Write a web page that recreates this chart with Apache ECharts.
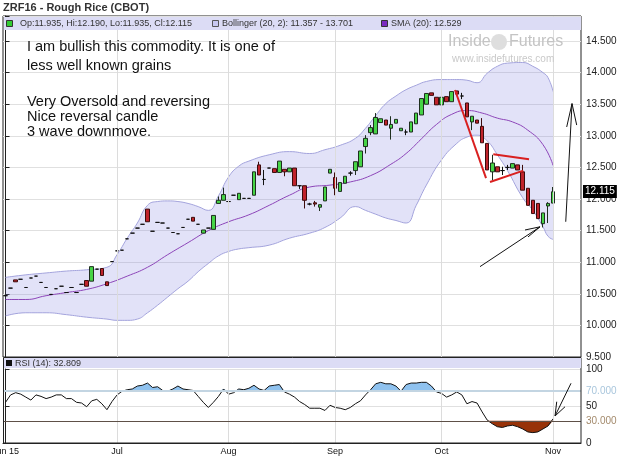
<!DOCTYPE html>
<html>
<head>
<meta charset="utf-8">
<title>ZRF16 - Rough Rice (CBOT)</title>
<script src="https://cdn.jsdelivr.net/npm/echarts@6/dist/echarts.min.js"></script>
<style>
    html, body { margin: 0; padding: 0; background: #fff; }
    #chart { width: 625px; height: 467px; }
</style>
</head>
<body>
<div id="chart"></div>
<script>
    // trading days Jun 1 - Nov 9 2015 (the last five Nov days are empty room on the right)
    const tradingDays = [
        ['2015-06', [1, 2, 3, 4, 5, 8, 9, 10, 11, 12, 15, 16, 17, 18, 19, 22, 23, 24, 25, 26, 29, 30]],
        ['2015-07', [1, 2, 6, 7, 8, 9, 10, 13, 14, 15, 16, 17, 20, 21, 22, 23, 24, 27, 28, 29, 30, 31]],
        ['2015-08', [3, 4, 5, 6, 7, 10, 11, 12, 13, 14, 17, 18, 19, 20, 21, 24, 25, 26, 27, 28, 31]],
        ['2015-09', [1, 2, 3, 4, 8, 9, 10, 11, 14, 15, 16, 17, 18, 21, 22, 23, 24, 25, 28, 29, 30]],
        ['2015-10', [1, 2, 5, 6, 7, 8, 9, 12, 13, 14, 15, 16, 19, 20, 21, 22, 23, 26, 27, 28, 29, 30]],
        ['2015-11', [2, 3, 4, 5, 6, 9]]
    ]
    const monthNames = {'06': 'Jun 15', '07': 'Jul', '08': 'Aug', '09': 'Sep', '10': 'Oct', '11': 'Nov'}

    // OHLC, one row per month
    const opens = [
        10.47, 10.59, 10.72, 10.73, 10.60, 10.75, 10.78, 10.68, 10.60, 10.49, 10.58, 10.62, 10.52, 10.60, 10.52, 10.65, 10.71, 10.70, 10.89, 10.90, 10.69, 11.01,
        11.18, 11.19, 11.37, 11.46, 11.54, 11.60, 11.84, 11.49, 11.63, 11.62, 11.54, 11.47, 11.45, 11.55, 11.68, 11.71, 11.60, 11.46, 11.54, 11.52, 11.93, 11.98,
        11.96, 12.06, 11.99, 12.01, 12.01, 12.06, 12.54, 12.31, 12.49, 12.48, 12.42, 12.47, 12.43, 12.49, 12.21, 12.21, 11.92, 11.94, 11.87, 11.97, 12.41,
        12.34, 12.12, 12.25, 12.41, 12.45, 12.51, 12.83, 13.05, 13.03, 13.21, 13.25, 13.12, 13.20, 13.08, 13.06, 13.06, 13.19, 13.33, 13.50, 13.68, 13.61,
        13.49, 13.62, 13.54, 13.71, 13.63, 13.52, 13.22, 13.25, 13.15, 12.88, 12.43, 12.51, 12.45, 12.50, 12.49, 12.54, 12.43, 12.17, 11.98, 11.93, 11.61, 11.89,
        11.935
    ]
    const closes = [
        10.47, 10.59, 10.69, 10.73, 10.60, 10.75, 10.78, 10.68, 10.60, 10.49, 10.58, 10.62, 10.52, 10.60, 10.52, 10.65, 10.62, 10.93, 10.89, 10.79, 10.63, 11.01,
        11.18, 11.19, 11.37, 11.46, 11.54, 11.60, 11.64, 11.49, 11.63, 11.62, 11.54, 11.47, 11.45, 11.55, 11.68, 11.65, 11.60, 11.51, 11.54, 11.74, 11.98, 12.07,
        11.96, 12.06, 12.09, 12.01, 12.01, 12.43, 12.38, 12.31, 12.49, 12.42, 12.60, 12.43, 12.49, 12.21, 12.21, 11.98, 11.92, 11.92, 11.91, 12.19, 12.47,
        12.17, 12.26, 12.36, 12.41, 12.59, 12.76, 12.96, 13.13, 13.29, 13.27, 13.17, 13.18, 13.26, 13.12, 13.06, 13.22, 13.36, 13.59, 13.67, 13.64, 13.49,
        13.61, 13.54, 13.70, 13.66, 13.63, 13.30, 13.31, 13.20, 12.89, 12.46, 12.57, 12.43, 12.45, 12.50, 12.56, 12.46, 12.14, 11.90, 11.77, 11.69, 11.78, 11.93,
        12.115
    ]
    const highs = [
        10.47, 10.59, 10.72, 10.73, 10.60, 10.75, 10.78, 10.68, 10.60, 10.49, 10.58, 10.62, 10.52, 10.60, 10.52, 10.65, 10.71, 10.93, 10.89, 10.90, 10.69, 11.01,
        11.18, 11.19, 11.37, 11.46, 11.54, 11.60, 11.84, 11.49, 11.63, 11.62, 11.54, 11.47, 11.45, 11.55, 11.68, 11.71, 11.60, 11.51, 11.54, 11.74, 12.04, 12.18,
        11.96, 12.06, 12.09, 12.01, 12.01, 12.43, 12.59, 12.46, 12.49, 12.48, 12.60, 12.47, 12.49, 12.49, 12.21, 12.21, 11.94, 11.97, 11.91, 12.19, 12.47,
        12.42, 12.26, 12.36, 12.44, 12.59, 12.76, 13.01, 13.17, 13.36, 13.27, 13.25, 13.31, 13.26, 13.12, 13.10, 13.22, 13.36, 13.59, 13.67, 13.68, 13.61,
        13.61, 13.62, 13.70, 13.71, 13.68, 13.52, 13.31, 13.25, 13.28, 12.88, 12.70, 12.51, 12.51, 12.54, 12.56, 12.54, 12.54, 12.17, 11.98, 11.93, 11.78, 11.95,
        12.19
    ]
    const lows = [
        10.47, 10.59, 10.69, 10.73, 10.60, 10.75, 10.78, 10.68, 10.60, 10.49, 10.58, 10.62, 10.52, 10.60, 10.52, 10.65, 10.62, 10.70, 10.89, 10.79, 10.63, 11.01,
        11.18, 11.19, 11.37, 11.46, 11.54, 11.60, 11.64, 11.49, 11.63, 11.62, 11.54, 11.47, 11.45, 11.55, 11.68, 11.65, 11.60, 11.46, 11.54, 11.52, 11.93, 11.98,
        11.96, 12.06, 11.99, 12.01, 12.01, 12.06, 12.38, 12.22, 12.49, 12.42, 12.42, 12.36, 12.43, 12.21, 12.16, 11.85, 11.90, 11.88, 11.81, 11.97, 12.41,
        12.06, 12.12, 12.25, 12.37, 12.38, 12.51, 12.72, 13.01, 13.03, 13.21, 13.17, 12.94, 13.20, 13.08, 13.01, 13.06, 13.19, 13.33, 13.50, 13.64, 13.49,
        13.49, 13.54, 13.54, 13.66, 13.58, 13.30, 13.09, 13.20, 12.89, 12.46, 12.30, 12.43, 12.38, 12.46, 12.49, 12.46, 12.14, 11.90, 11.77, 11.69, 11.55, 11.62,
        11.935
    ]

    // Bollinger (20, 2) at these day indices
    const bandIdx = [0, 4, 8, 12, 16, 20, 22, 24, 26, 28, 30, 32, 34, 36, 38, 40, 42, 44, 46, 48, 52, 56, 60, 63, 66, 69,
        71, 73, 75, 77, 79, 81, 83, 86, 89, 91, 93, 95, 97, 99, 102, 104, 106, 107, 108]
    const bandUpper = [10.76, 10.80, 10.83, 10.86, 10.88, 10.92, 11.12, 11.38, 11.62, 11.90, 11.96, 11.97, 11.96, 11.93, 11.88, 11.82, 12.05, 12.35, 12.52, 12.60, 12.70, 12.75, 12.72, 12.78, 12.85, 12.96,
        13.12, 13.32, 13.51, 13.63, 13.73, 13.80, 13.86, 13.89, 13.89, 13.88, 13.84, 13.99, 14.10, 14.15, 14.16, 14.10, 14.00, 13.92, 13.70]
    const bandLower = [10.15, 10.20, 10.20, 10.17, 10.13, 10.10, 10.08, 10.08, 10.10, 10.20, 10.32, 10.45, 10.58, 10.70, 10.85, 10.98, 11.10, 11.17, 11.21, 11.23, 11.27, 11.38, 11.46, 11.55, 11.70, 11.88,
        11.82, 11.76, 11.70, 11.66, 11.62, 11.90, 12.22, 12.62, 12.88, 12.98, 13.01, 12.92, 12.70, 12.45, 12.02, 11.82, 11.56, 11.41, 11.36]

    // SMA (20)
    const smaIdx = [0, 4, 8, 12, 16, 20, 24, 28, 32, 36, 40, 44, 48, 52, 56, 60, 64, 68, 72, 76, 79, 82, 85, 88, 91, 94, 97, 100, 103, 106, 108]
    const smaVals = [10.41, 10.41, 10.47, 10.52, 10.57, 10.66, 10.78, 10.92, 11.12, 11.31, 11.50, 11.64, 11.75, 11.90, 12.06, 12.19,
        12.22, 12.27, 12.37, 12.55, 12.72, 12.95, 13.18, 13.34, 13.40, 13.36, 13.28, 13.22, 13.09, 12.86, 12.53]

    // RSI (14)
    const rsi = [
        55, 65, 68, 66, 62, 58, 65, 63, 60, 62, 65, 65, 60, 60, 55, 54, 49, 57, 59, 53, 45, 56,
        65, 70, 72, 73, 77, 78, 81, 75, 76, 71, 70, 73, 77, 73, 72, 71, 63, 55, 48, 55, 63, 73,
        66, 68, 73, 72, 74, 78, 73, 71, 77, 78, 79, 69, 66, 62, 56, 52, 47, 47, 47, 44, 51,
        48, 47, 45, 48, 53, 57, 65, 72, 80, 82, 80, 80, 77, 70, 79, 81, 81, 82, 82, 77, 69,
        67, 62, 65, 69, 65, 53, 56, 54, 42, 31, 26, 22, 21, 23, 24, 22, 19, 15, 14, 15, 19, 23,
        32.8
    ]

    // hand drawn marks, [day index, value]
    const redLines = [
        [[88.65, 13.725], [94.77, 12.33]],
        [[95.55, 12.27], [102.12, 12.45]],
        [[96.2, 12.71], [103.25, 12.63]]
    ]
    const blackArrows = [
        [[93.58, 10.93], [105.42, 11.56]],
        [[102.46, 11.51], [105.42, 11.56], [103.05, 11.40]],
        [[110.49, 11.64], [111.73, 13.51]],
        [[110.68, 13.14], [111.73, 13.51], [112.65, 13.17]]
    ]
    const rsiArrow = [
        [[111.53, 80.7], [108.38, 36.5]],
        [[108.71, 55.8], [108.38, 36.5], [110.35, 49.0]]
    ]

    const categories = []
    tradingDays.forEach(([ym, days]) => days.forEach(d => categories.push(ym + '-' + String(d).padStart(2, '0'))))
    const monthStart = []
    categories.forEach((c, i) => {
        if (i === 0 || c.slice(0, 7) !== categories[i - 1].slice(0, 7)) monthStart.push(i)
    })
    const isMonthStart = (i) => monthStart.indexOf(i) >= 0

    const candles = opens.map((o, i) => [o, closes[i], lows[i], highs[i]])
    const lowerPts = bandIdx.map((x, k) => [x, bandLower[k]])
    const widthPts = bandIdx.map((x, k) => [x, +(bandUpper[k] - bandLower[k]).toFixed(3)])
    const smaPts = smaIdx.map((x, k) => [x, smaVals[k]])
    const rsiAbove = rsi.map(v => Math.max(v, 70))
    const rsiBelow = rsi.map(v => Math.min(v, 30))

    const FONT = 'Liberation Sans, Arial, sans-serif'
    const monthLines = monthStart.filter(i => i > 0).map(i => ({xAxis: i}))

    const segSeries = (segs, xIdx, yIdx, color, width) => segs.map(pts => ({
        type: 'line', xAxisIndex: xIdx, yAxisIndex: yIdx, data: pts, symbol: 'none',
        silent: true, z: 6, lineStyle: {color: color, width: width}
    }))

    const text = (x, y, str, font, fill, z) => ({
        type: 'text', x: x, y: y, z: z || 12, silent: true,
        style: {text: str, font: font, fill: fill, verticalAlign: 'middle'}
    })

    let chart = echarts.init(document.getElementById('chart'))
    chart.setOption({
        animation: false,
        textStyle: {fontFamily: FONT},
        grid: [
            {left: 3, right: 44, top: 16, height: 341, show: true, borderColor: '#222', borderWidth: 1, outerBoundsMode: 'none'},
            {left: 3, right: 44, top: 369, height: 74, outerBoundsMode: 'none'}
        ],
        xAxis: [
            {type: 'category', gridIndex: 0, data: categories, show: false},
            {
                type: 'category', gridIndex: 1, data: categories,
                axisLine: {lineStyle: {color: '#222'}},
                axisTick: {alignWithLabel: true, interval: isMonthStart, length: 3, lineStyle: {color: '#222'}},
                axisLabel: {
                    interval: isMonthStart, fontSize: 9, color: '#111', margin: 4, alignMinLabel: 'center',
                    formatter: (v) => monthNames[v.slice(5, 7)]
                },
                splitLine: {show: false}
            },
            {type: 'value', gridIndex: 0, min: -0.5, max: categories.length - 0.5, show: false},
            {type: 'value', gridIndex: 1, min: -0.5, max: categories.length - 0.5, show: false}
        ],
        yAxis: [
            {
                type: 'value', gridIndex: 0, position: 'right', min: 9.5, max: 14.896, interval: 0.5,
                axisLine: {show: true, lineStyle: {color: '#222'}},
                axisTick: {show: true, length: 4, lineStyle: {color: '#222'}},
                axisLabel: {
                    fontSize: 10, color: '#222', margin: 5,
                    formatter: (v) => Math.abs(v * 2 - Math.round(v * 2)) < 1e-6 ? v.toFixed(3) : ''
                },
                splitLine: {lineStyle: {color: '#e0e0e0'}}
            },
            {
                type: 'value', gridIndex: 1, position: 'right', min: 0, max: 100, interval: 50,
                axisLine: {show: true, lineStyle: {color: '#222'}},
                axisTick: {show: true, length: 4, lineStyle: {color: '#222'}},
                axisLabel: {fontSize: 10, color: '#222', margin: 5},
                splitLine: {lineStyle: {color: '#e0e0e0'}}
            }
        ],
        series: [
            // month grid lines, main panel
            {
                type: 'line', xAxisIndex: 0, yAxisIndex: 0, data: closes, symbol: 'none', silent: true, z: 1,
                lineStyle: {opacity: 0},
                markLine: {
                    silent: true, symbol: 'none', label: {show: false}, animation: false,
                    lineStyle: {color: '#dcdcdc', type: 'solid', width: 1}, data: monthLines
                }
            },
            {
                name: 'BB lower', type: 'line', xAxisIndex: 0, yAxisIndex: 0, stack: 'bb', smooth: true,
                data: lowerPts, symbol: 'none', silent: true, z: 2,
                lineStyle: {color: '#a3a3dc', width: 1}
            },
            {
                name: 'BB upper', type: 'line', xAxisIndex: 0, yAxisIndex: 0, stack: 'bb', smooth: true,
                data: widthPts, symbol: 'none', silent: true, z: 2,
                lineStyle: {color: '#a3a3dc', width: 1},
                areaStyle: {color: 'rgba(135,135,225,0.35)'}
            },
            {
                name: 'SMA', type: 'line', xAxisIndex: 0, yAxisIndex: 0, smooth: true,
                data: smaPts, symbol: 'none', silent: true, z: 3,
                lineStyle: {color: '#8c44b8', width: 1}
            },
            {
                name: 'ZRF16', type: 'candlestick', xAxisIndex: 0, yAxisIndex: 0, data: candles,
                barWidth: 4, z: 4,
                itemStyle: {
                    color: '#46d446', color0: '#c0232b',
                    borderColor: '#1f2f1f', borderColor0: '#3c0c0c', borderColorDoji: '#111', borderWidth: 1
                },
                markLine: {
                    silent: true, symbol: 'none', animation: false,
                    lineStyle: {color: 'transparent', width: 0},
                    label: {
                        show: true, position: 'end', distance: 2, formatter: '12.115', color: '#fff',
                        backgroundColor: '#000', padding: [2, 2, 1, 2], fontSize: 10
                    },
                    data: [{yAxis: 12.115}]
                }
            },
            ...segSeries(redLines, 2, 0, '#d92020', 2),
            ...segSeries(blackArrows, 2, 0, '#111', 1),
            // month grid lines, RSI panel
            {
                type: 'line', xAxisIndex: 1, yAxisIndex: 1, data: rsi, symbol: 'none', silent: true, z: 1,
                lineStyle: {opacity: 0},
                markLine: {
                    silent: true, symbol: 'none', label: {show: false}, animation: false,
                    lineStyle: {color: '#dcdcdc', type: 'solid', width: 1}, data: monthLines
                }
            },
            {
                type: 'line', xAxisIndex: 1, yAxisIndex: 1, data: rsiAbove, symbol: 'none', silent: true, z: 2,
                lineStyle: {width: 0}, areaStyle: {origin: 70, color: '#8fc2ef', opacity: 1}
            },
            {
                type: 'line', xAxisIndex: 1, yAxisIndex: 1, data: rsiBelow, symbol: 'none', silent: true, z: 2,
                lineStyle: {width: 0}, areaStyle: {origin: 30, color: '#983208', opacity: 1}
            },
            {
                name: 'RSI', type: 'line', xAxisIndex: 1, yAxisIndex: 1, data: rsi, symbol: 'none', silent: true, z: 3,
                lineStyle: {color: '#111', width: 1},
                markLine: {
                    silent: true, symbol: 'none', animation: false,
                    label: {position: 'end', distance: 5, fontSize: 10},
                    data: [
                        {yAxis: 70, lineStyle: {color: '#c3d5e2', width: 2, type: 'solid'}, label: {formatter: '70.000', color: '#a9c6dc'}},
                        {yAxis: 30, lineStyle: {color: '#5e5048', width: 1, type: 'solid'}, label: {formatter: '30.000', color: '#a38a6c'}}
                    ]
                }
            },
            ...segSeries(rsiArrow, 3, 1, '#111', 1)
        ],
        graphic: [
            text(3, 8, 'ZRF16 - Rough Rice (CBOT)', 'bold 11px ' + FONT, '#333'),
            // legend strip
            {type: 'rect', z: 10, silent: true, shape: {x: 4, y: 17, width: 577, height: 13}, style: {fill: '#dcdcf5'}},
            {type: 'rect', z: 11, silent: true, shape: {x: 6.5, y: 20.5, width: 6, height: 6}, style: {fill: '#33cc33', stroke: '#333', lineWidth: 1}},
            text(20, 24, 'Op:11.935, Hi:12.190, Lo:11.935, Cl:12.115', '9px ' + FONT, '#333'),
            {type: 'rect', z: 11, silent: true, shape: {x: 212.5, y: 20.5, width: 6, height: 6}, style: {fill: '#c8c8f0', stroke: '#555', lineWidth: 1}},
            text(222, 24, 'Bollinger (20, 2): 11.357 - 13.701', '9px ' + FONT, '#333'),
            {type: 'rect', z: 11, silent: true, shape: {x: 381.5, y: 20.5, width: 6, height: 6}, style: {fill: '#7a2ac0', stroke: '#333', lineWidth: 1}},
            text(391, 24, 'SMA (20): 12.529', '9px ' + FONT, '#333'),
            // watermark
            text(448, 42, 'Inside', '16px ' + FONT, '#c4c4c4', 9),
            {type: 'circle', z: 9, silent: true, shape: {cx: 499, cy: 42, r: 8}, style: {fill: '#dedede'}},
            text(509, 42, 'Futures', '16px ' + FONT, '#c4c4c4', 9),
            text(452, 59, 'www.insidefutures.com', '10px ' + FONT, '#c9c9c9', 9),
            // notes
            text(27, 47, 'I am bullish this commodity. It is one of', '14.5px ' + FONT, '#111'),
            text(27, 66, 'less well known grains', '14.5px ' + FONT, '#111'),
            text(27, 102, 'Very Oversold and reversing', '14.5px ' + FONT, '#111'),
            text(27, 117, 'Nice reversal candle', '14.5px ' + FONT, '#111'),
            text(27, 132, '3 wave downmove.', '14.5px ' + FONT, '#111'),
            // RSI panel frame and header
            {type: 'rect', z: 10, silent: true, shape: {x: 3.5, y: 357.5, width: 577.5, height: 85.5}, style: {fill: 'none', stroke: '#222', lineWidth: 1}},
            {type: 'rect', z: 10, silent: true, shape: {x: 4, y: 358, width: 577, height: 10}, style: {fill: '#dcdcf5'}},
            {type: 'rect', z: 11, silent: true, shape: {x: 6, y: 360, width: 6, height: 6}, style: {fill: '#111'}},
            text(15, 363.5, 'RSI (14): 32.809', '9px ' + FONT, '#333')
        ]
    })
</script>
</body>
</html>
